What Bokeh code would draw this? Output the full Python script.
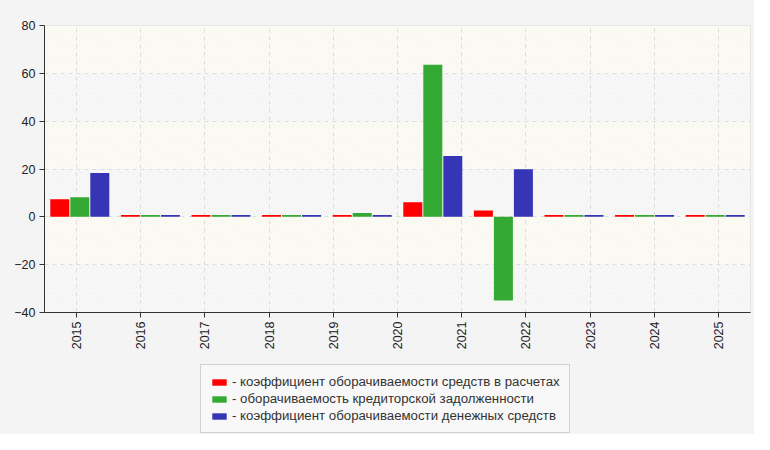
import numpy as np
from bokeh.plotting import figure
from bokeh.layouts import column
from bokeh.models import Range1d, FixedTicker, Legend, LegendItem
from bokeh.embed import file_html
from bokeh.resources import INLINE

# ---- data ----
categories = ["2015", "2016", "2017", "2018", "2019", "2020",
              "2021", "2022", "2023", "2024", "2025"]
receivables = [7.3, 0.8, 0.8, 0.8, 0.8, 6.1, 2.7, 0.8, 0.8, 0.8]
payables = [8.2, 0.8, 0.8, 0.8, 1.6, 63.6, -35.0, 0.8, 0.8, 0.8]
cash = [18.3, 0.8, 0.8, 0.8, 0.8, 25.4, 19.9, 0.8, 0.8, 0.8]
series_names = [
    "- коэффициент оборачиваемости средств в расчетах",
    "- оборачиваемость кредиторской задолженности",
    "- коэффициент оборачиваемости денежных средств",
]
colors = ["#ff0000", "#34a934", "#3535b5"]
y_ticks = [-40, -20, 0, 20, 40, 60, 80]

FONT = "Liberation Sans"
BG = "#f4f4f4"

n_cat = len(categories)
n_grp = len(receivables)
x_max = float(n_cat)
grp_w = x_max / n_grp
pitch = 0.3116
bar_w = 0.296

p = figure(width=754, height=360, output_backend="svg", toolbar_location=None,
           x_range=Range1d(0, x_max), y_range=Range1d(y_ticks[0], y_ticks[-1]),
           min_border_left=44, min_border_right=4, min_border_top=25,
           min_border_bottom=48)
p.border_fill_color = BG
p.background_fill_color = "#fdfdf6"
p.outline_line_color = "#dddddd"

# alternating background bands
band_bottom = y_ticks[:-1]
band_top = y_ticks[1:]
alt = [i % 2 == 0 for i in range(len(band_bottom))]
bb_w = [b for b, a in zip(band_bottom, alt) if a]
bt_w = [t for t, a in zip(band_top, alt) if a]
bb_i = [b for b, a in zip(band_bottom, alt) if not a]
bt_i = [t for t, a in zip(band_top, alt) if not a]
p.quad(left=0, right=x_max, bottom=bb_w, top=bt_w, fill_color="#fbfbfb",
       line_color=None, hatch_pattern="/", hatch_color="#eeeeee",
       hatch_scale=5, hatch_weight=1, level="image")
p.quad(left=0, right=x_max, bottom=bb_i, top=bt_i, fill_color="#fdfdf5",
       line_color=None, hatch_pattern="/", hatch_color="#f5f5ee",
       hatch_scale=5, hatch_weight=1, level="image")

centers = (np.arange(n_grp) + 0.5) * grp_w
series = [receivables, payables, cash]
for k, (vals, col) in enumerate(zip(series, colors)):
    p.vbar(x=centers + (k - 1) * pitch, top=vals, bottom=0, width=bar_w,
           fill_color=col, line_color=None)

# axes
tick_pos = [i + 0.5 for i in range(n_cat)]
p.xaxis.ticker = FixedTicker(ticks=tick_pos)
p.xaxis.major_label_overrides = {t: c for t, c in zip(tick_pos, categories)}
p.xaxis.major_label_orientation = np.pi / 2
p.yaxis.ticker = FixedTicker(ticks=y_ticks)
for ax in (p.xaxis[0], p.yaxis[0]):
    ax.axis_line_color = "#333333"
    ax.major_tick_line_color = "#333333"
    ax.minor_tick_line_color = None
    ax.major_tick_out = 5
    ax.major_tick_in = 0
    ax.major_label_text_font = FONT
    ax.major_label_text_font_size = "12.5px"
    ax.major_label_text_color = "#222222"
    ax.major_label_standoff = 4

p.xgrid.ticker = FixedTicker(ticks=tick_pos)
p.ygrid.ticker = FixedTicker(ticks=y_ticks)
for g in (p.xgrid[0], p.ygrid[0]):
    g.grid_line_color = "#dddddd"
    g.grid_line_dash = "4 4"
    g.grid_line_width = 1

# legend strip below the chart (its y range keeps the series bars out of view)
q = figure(width=754, height=74, output_backend="svg", toolbar_location=None,
           x_range=Range1d(0, x_max), y_range=Range1d(500, 501),
           x_axis_location=None, y_axis_location=None,
           min_border_left=0, min_border_right=0, min_border_top=0,
           min_border_bottom=0)
q.grid.visible = False
q.outline_line_color = None
q.border_fill_color = BG
q.background_fill_color = BG
swatches = [q.vbar(x=centers, top=vals, width=bar_w, fill_color=c,
                   line_color=None)
            for vals, c in zip(series, colors)]
legend = Legend(items=[LegendItem(label=n, renderers=[r])
                       for n, r in zip(series_names, swatches)],
                location=(156, 1))
legend.label_text_font = FONT
legend.label_text_font_size = "13.25px"
legend.label_text_color = "#333333"
legend.glyph_width = 18
legend.glyph_height = 8
legend.label_height = 14
legend.label_standoff = 4
legend.spacing = 2
legend.padding = 9
legend.margin = 0
legend.border_line_color = "#aaaaaa"
legend.background_fill_color = "#f8f8f8"
legend.background_fill_alpha = 1
q.add_layout(legend, "center")

layout = column(p, q, spacing=0, styles={"background-color": BG})
open("out.html", "w").write(file_html(layout, INLINE))
